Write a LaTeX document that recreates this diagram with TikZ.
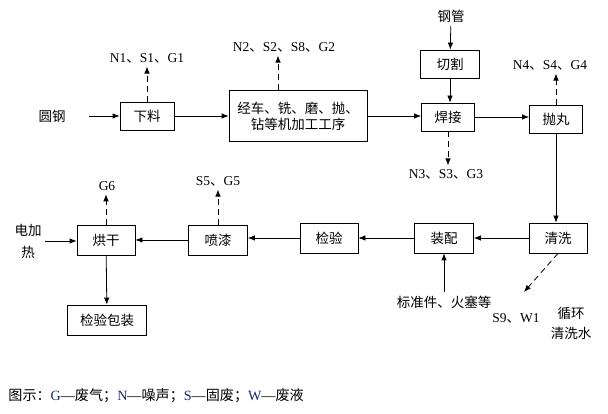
\documentclass[tikz,border=0pt]{standalone}
\usepackage{fontspec}
\usepackage{xcolor}
\setmainfont{Liberation Serif}
\newfontfamily\cjk{Noto Sans CJK SC}
\usetikzlibrary{arrows.meta,positioning}
\newcommand{\dn}{{\cjk 、}}
\definecolor{legblue}{RGB}{20,40,110}

\begin{document}
\begin{tikzpicture}[x=1pt,y=-1pt,line width=0.8pt,
        font=\fontsize{13.5}{16}\selectfont,
        box/.style={draw, align=center, inner sep=2pt, font=\fontsize{13.5}{16}\selectfont\cjk},
        flow/.style={-{Latex[length=7pt,width=5.5pt]}},
        waste/.style={flow, dash pattern=on 6pt off 4pt}]
        \useasboundingbox (0,0) rectangle (608,414);
        % process boxes
        \node[box, minimum width=54pt, minimum height=28pt] (xl) at (147,116) {下料};
        \node[box, minimum width=138pt, minimum height=51pt] (jg) at (298,116) {经车、铣、磨、抛、\\钻等机加工工序};
        \node[box, minimum width=59pt, minimum height=28pt] (qg) at (450,64) {切割};
        \node[box, minimum width=53pt, minimum height=28pt] (hj) at (448,117) {焊接};
        \node[box, minimum width=53pt, minimum height=28pt] (pw) at (556,119) {抛丸};
        \node[box, minimum width=58pt, minimum height=30pt] (qx) at (558,238) {清洗};
        \node[box, minimum width=59pt, minimum height=30pt] (zp) at (444,238) {装配};
        \node[box, minimum width=58pt, minimum height=30pt] (jy) at (329,238) {检验};
        \node[box, minimum width=59pt, minimum height=30pt] (pq) at (218,240) {喷漆};
        \node[box, minimum width=58pt, minimum height=30pt] (hg) at (106,240) {烘干};
        \node[box, minimum width=79pt, minimum height=30pt] (bz) at (107,320) {检验包装};
        % inputs
        \node[font=\fontsize{13.5}{16}\selectfont\cjk] (yg) at (52,116) {圆钢};
        \node[font=\fontsize{13.5}{16}\selectfont\cjk] (gg) at (451,16) {钢管};
        \node[align=center, font=\fontsize{13.5}{22}\selectfont\cjk] (djr) at (28,241) {电加\\热};
        \node[font=\fontsize{13.5}{16}\selectfont\cjk] (bj) at (444,302) {标准件、火塞等};
        \node[align=center, font=\fontsize{13.5}{20}\selectfont\cjk] (xh) at (571,323) {循环\\清洗水};
        % pollutant labels
        \node (l1) at (147,58) {N1\dn S1\dn G1};
        \node (l2) at (284,47) {N2\dn S2\dn S8\dn G2};
        \node (l3) at (446,174) {N3\dn S3\dn G3};
        \node (l4) at (550,65) {N4\dn S4\dn G4};
        \node (l5) at (218,181) {S5\dn G5};
        \node (l6) at (107,186) {G6};
        \node (l9) at (516,318) {S9\dn W1};
        \coordinate (w1) at (524,292);
        % legend
        \node[anchor=west, inner sep=0pt, font=\fontsize{14.1}{16}\selectfont] (leg) at (8,396) {{\cjk 图示：}\textcolor{legblue}{G}—{\cjk 废气；}\textcolor{legblue}{N}—{\cjk 噪声；}\textcolor{legblue}{S}—{\cjk 固废；}\textcolor{legblue}{W}—{\cjk 废液}};
        % main flow
        \draw[flow, shorten <=20pt] (yg.east) -- (xl.west);
        \draw[flow] (xl) -- (jg);
        \draw[flow] (jg.east) -- (jg.east -| hj.west);
        \draw[flow] (gg) -- (qg);
        \draw[flow] (qg.south) -- (qg.south |- hj.north);
        \draw[flow] (hj.east) -- (hj.east -| pw.west);
        \draw[flow] (pw.south) -- (pw.south |- qx.north);
        \draw[flow] (qx) -- (zp);
        \draw[flow] (zp) -- (jy);
        \draw[flow] (jy.west) -- (jy.west -| pq.east);
        \draw[flow] (pq) -- (hg);
        \draw[flow] (djr.east) -- (djr.east -| hg.west);
        \draw[flow] (hg) -- (bz);
        \draw[flow] (bj.north) -- (zp.south);
        % waste
        \draw[waste] (xl.north) -- (l1.south);
        \draw[waste] ([xshift=-20pt]jg.north) -- ([xshift=-20pt]jg.north |- l2.south);
        \draw[waste] (hj.south) -- (hj.south |- l3.north);
        \draw[waste] (pw.north) -- (pw.north |- l4.south);
        \draw[waste] (pq.north) -- (pq.north |- l5.south);
        \draw[waste] (hg.north) -- (hg.north |- l6.south);
        \draw[waste] (qx.south) -- (w1);
    \end{tikzpicture}
\end{document}
